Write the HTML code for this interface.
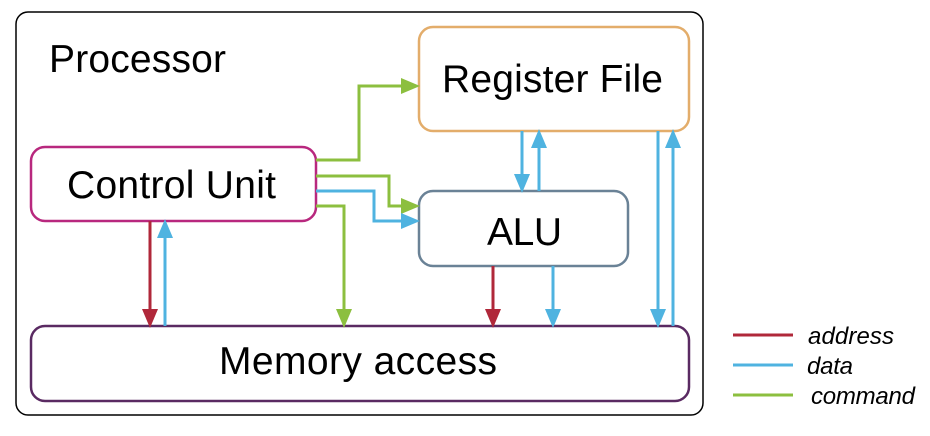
<!DOCTYPE html>
<html><head><meta charset="utf-8"><style>html,body{margin:0;padding:0;background:#fff}svg{display:block}</style></head>
<body>
<svg width="930" height="436" viewBox="0 0 930 436" xmlns="http://www.w3.org/2000/svg" font-family="Liberation Sans, Arial, sans-serif">
<rect x="16" y="12" width="687" height="403" rx="12" fill="#fff" stroke="#000" stroke-width="1.5"/>
<text x="49" y="72" font-size="39" textLength="177">Processor</text>

<rect x="419" y="27" width="270" height="104" rx="14" fill="#fff" stroke="#e3ad6b" stroke-width="2.5"/>
<text x="442" y="92" font-size="39" textLength="221">Register File</text>
<rect x="31" y="147" width="285" height="74" rx="14" fill="#fff" stroke="#b8287e" stroke-width="2.5"/>
<text x="67" y="198" font-size="39" textLength="209">Control Unit</text>
<rect x="419" y="191" width="209" height="75" rx="14" fill="#fff" stroke="#6a8296" stroke-width="2.5"/>
<text x="487" y="245" font-size="39" textLength="75">ALU</text>
<rect x="31" y="326" width="658" height="75" rx="14" fill="#fff" stroke="#5a2a62" stroke-width="2.5"/>
<text x="219" y="374" font-size="39" textLength="278">Memory access</text>

<g fill="none" stroke-width="3">
<polyline points="316,160 359,160 359,86 404,86" stroke="#8cbf3f"/>
<polyline points="316,176 389,176 389,206 404,206" stroke="#8cbf3f"/>
<polyline points="316,191 374,191 374,221 404,221" stroke="#4fb3e0"/>
<polyline points="316,206 344,206 344,312" stroke="#8cbf3f"/>
<line x1="150" y1="221" x2="150" y2="312" stroke="#b0283a"/>
<line x1="165" y1="326" x2="165" y2="236" stroke="#4fb3e0"/>
<line x1="522" y1="131" x2="522" y2="177" stroke="#4fb3e0"/>
<line x1="539" y1="191" x2="539" y2="145" stroke="#4fb3e0"/>
<line x1="493" y1="266" x2="493" y2="312" stroke="#b0283a"/>
<line x1="553" y1="266" x2="553" y2="312" stroke="#4fb3e0"/>
<line x1="658" y1="131" x2="658" y2="312" stroke="#4fb3e0"/>
<line x1="673" y1="326" x2="673" y2="145" stroke="#4fb3e0"/>
</g>
<g>
<polygon points="420,86 401,78 401,94" fill="#8cbf3f"/>
<polygon points="420,206 401,198 401,214" fill="#8cbf3f"/>
<polygon points="420,221 401,213 401,229" fill="#4fb3e0"/>
<polygon points="344,328 336,309 352,309" fill="#8cbf3f"/>
<polygon points="150,328 142,309 158,309" fill="#b0283a"/>
<polygon points="165,219 157,238 173,238" fill="#4fb3e0"/>
<polygon points="522,193 514,174 530,174" fill="#4fb3e0"/>
<polygon points="539,129 531,148 547,148" fill="#4fb3e0"/>
<polygon points="493,328 485,309 501,309" fill="#b0283a"/>
<polygon points="553,328 545,309 561,309" fill="#4fb3e0"/>
<polygon points="658,328 650,309 666,309" fill="#4fb3e0"/>
<polygon points="673,129 665,148 681,148" fill="#4fb3e0"/>
</g>

<g stroke-width="3">
<line x1="733" y1="335" x2="793" y2="335" stroke="#b0283a"/>
<line x1="733" y1="365" x2="793" y2="365" stroke="#4fb3e0"/>
<line x1="733" y1="395" x2="793" y2="395" stroke="#8cbf3f"/>
</g>
<g font-size="24" font-style="italic">
<text x="808" y="344" textLength="86">address</text>
<text x="807" y="374" textLength="46">data</text>
<text x="811" y="404" textLength="104">command</text>
</g>
</svg>
</body></html>
